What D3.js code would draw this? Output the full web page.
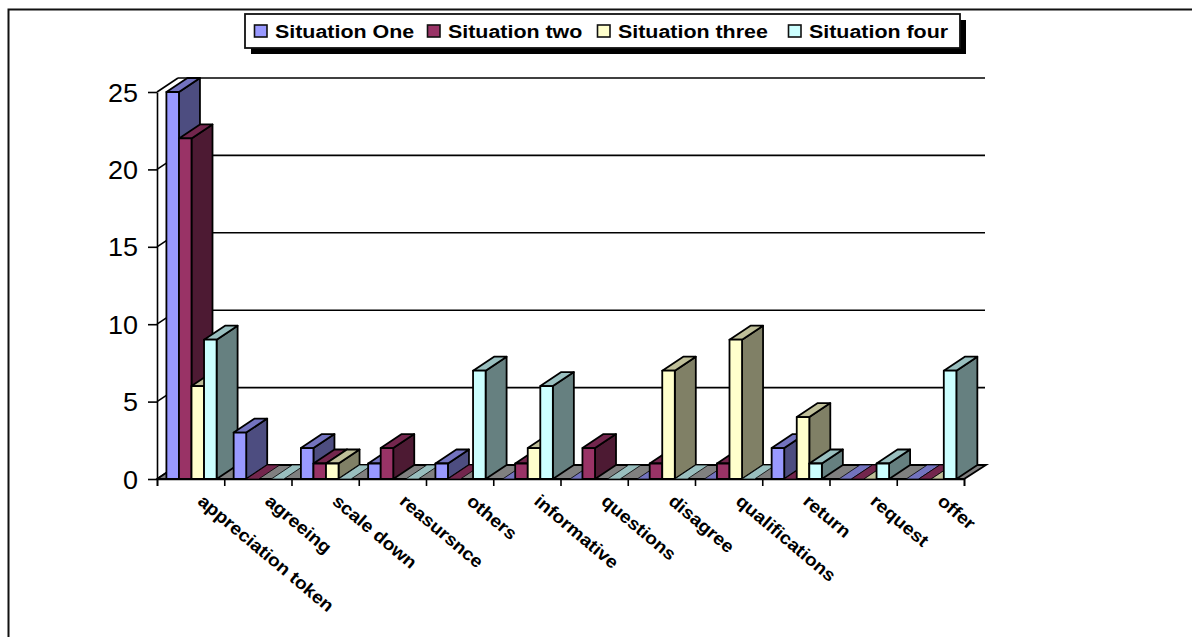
<!DOCTYPE html>
<html>
<head>
<meta charset="utf-8">
<script src="https://cdnjs.cloudflare.com/ajax/libs/d3/7.8.5/d3.min.js"></script>
<style>
  html, body { margin: 0; padding: 0; background: #fff; }
  svg { display: block; }
  text { font-family: "Liberation Sans", Arial, sans-serif; fill: #000; }
</style>
</head>
<body>
<svg id="chart" width="1192" height="637"></svg>
<script>
// Chart values; a null means the cell is empty, so no bar or strip is drawn.
const categories = ["appreciation token", "agreeing", "scale down", "reasursnce", "others",
  "informative", "questions", "disagree", "qualifications", "return", "request", "offer"];
const seriesNames = ["Situation One", "Situation two", "Situation three", "Situation four"];
const situationOne   = [25, 3, 2, 1, 1, 0, 0, 0, 0, 2, 0, 0];
const situationTwo   = [22, 0, 1, 2, 0, 1, 2, 1, 1, 0, 0, 0];
const situationThree = [6, null, 1, null, null, 2, null, 7, 9, 4, 0, 0];
const situationFour  = [9, 0, 0, 0, 7, 6, 0, 0, 0, 1, 1, 7];
const seriesValues = [situationOne, situationTwo, situationThree, situationFour];
const yTicks = [0, 5, 10, 15, 20, 25];

// Front, top and side shades for each series.
const frontColors = ["#9999ff", "#993366", "#ffffcc", "#ccffff"];
const topColors   = ["#7373bf", "#73264d", "#bfbf99", "#99bfbf"];
const sideColors  = ["#4d4d80", "#4d1a33", "#808066", "#668080"];

const svg = d3.select("#chart");

// Plot frame and the oblique depth of the 3-D box.
const plot = { left: 157, right: 964, top: 92, bottom: 479 };
const depth = { dx: 21, dy: -14 };
const lineColor = "#000";
const edge = 1.8;

const y = d3.scaleLinear().domain([0, 25]).range([plot.bottom, plot.top]);
const xBand = d3.scaleBand().domain(categories).range([plot.left, plot.right]);
const xInner = d3.scaleBand().domain(d3.range(seriesNames.length)).range([9.4, 59.6]);
const xTicks = d3.scaleLinear().domain([0, categories.length]).range([plot.left, plot.right]);

const poly = pts => pts.map(p => p.join(",")).join(" ");

// Outer border running off the top right and bottom left of the page.
svg.append("path")
  .attr("d", "M8.5,637V9.5H1192")
  .attr("fill", "none").attr("stroke", "#111").attr("stroke-width", 2);

// Back-wall gridlines with their diagonal returns on the side wall.
const walls = svg.append("g").attr("stroke", lineColor).attr("stroke-width", 1.6).attr("fill", "none");
walls.selectAll("line.grid").data(yTicks.filter(t => t > 0)).join("line")
  .attr("class", "grid")
  .attr("x1", plot.left + depth.dx).attr("x2", plot.right + depth.dx)
  .attr("y1", d => y(d) + depth.dy).attr("y2", d => y(d) + depth.dy);
walls.selectAll("line.return").data(yTicks).join("line")
  .attr("class", "return")
  .attr("x1", plot.left).attr("x2", plot.left + depth.dx)
  .attr("y1", d => y(d)).attr("y2", d => y(d) + depth.dy);

// Floor of the box.
svg.append("polygon")
  .attr("points", poly([
    [plot.left, plot.bottom], [plot.right, plot.bottom],
    [plot.right + depth.dx + 1, plot.bottom + depth.dy], [plot.left + depth.dx, plot.bottom + depth.dy]
  ]))
  .attr("fill", "#808080").attr("stroke", lineColor).attr("stroke-width", edge);

// Value axis.
const yAxis = svg.append("g")
  .attr("transform", `translate(${plot.left},0)`)
  .call(d3.axisLeft(y).tickValues(yTicks).tickSize(9).tickPadding(10).tickSizeOuter(0));
yAxis.selectAll("path, line").attr("stroke", lineColor).attr("stroke-width", 1.6);
yAxis.selectAll("text")
  .attr("font-size", 25)
  .style("font-family", '"Liberation Sans", Arial, sans-serif')
  .attr("dy", "0.36em")
  .attr("textLength", d => String(d).length * 15)
  .attr("lengthAdjust", "spacingAndGlyphs");

// Category axis tick marks sit on the band boundaries.
const xAxis = svg.append("g")
  .attr("transform", `translate(0,${plot.bottom})`)
  .call(d3.axisBottom(xTicks).tickValues(d3.range(categories.length + 1)).tickSize(7).tickFormat(""));
xAxis.selectAll("path, line").attr("stroke", lineColor).attr("stroke-width", 1.6);

// Bars are painted left to right so that nearer faces overlap earlier ones.
const barsLayer = svg.append("g").attr("stroke", lineColor).attr("stroke-width", edge).attr("stroke-linejoin", "round");
categories.forEach((cat, ci) => {
  seriesValues.forEach((vals, si) => {
    const v = vals[ci];
    if (v === null) return;
    const x0 = xBand(cat) + xInner(si);
    const x1 = x0 + xInner.bandwidth();
    const yb = y(0);
    const yt = y(v);
    const { dx, dy } = depth;
    const g = barsLayer.append("g");
    if (v > 0) {
      g.append("polygon").attr("fill", sideColors[si])
        .attr("points", poly([[x1, yb], [x1 + dx, yb + dy], [x1 + dx, yt + dy], [x1, yt]]));
    }
    g.append("polygon").attr("fill", topColors[si])
      .attr("stroke-width", v > 0 ? edge : 0.8)
      .attr("points", poly([[x0, yt], [x1, yt], [x1 + dx, yt + dy], [x0 + dx, yt + dy]]));
    if (v > 0) {
      g.append("rect").attr("fill", frontColors[si])
        .attr("x", x0).attr("y", yt).attr("width", x1 - x0).attr("height", yb - yt);
    }
  });
});

// Slanted category labels.
const labelStretch = 1.08;
svg.append("g").selectAll("text").data(categories).join("text")
  .attr("transform", d => `translate(${xBand(d) + xBand.bandwidth() / 2 + 6},503) rotate(40) scale(${labelStretch},1)`)
  .attr("font-size", 17.8).attr("font-weight", "bold")
  .text(d => d);

// Legend box with its drop shadow.
const legend = { x: 245, y: 14, w: 715, h: 34, shadow: 6 };
const legendMarkers = [254, 427, 597, 788];
const legendStretch = 1.19;
svg.append("rect").attr("x", legend.x + legend.shadow).attr("y", legend.y + legend.shadow)
  .attr("width", legend.w).attr("height", legend.h).attr("fill", "#000");
svg.append("rect").attr("x", legend.x).attr("y", legend.y)
  .attr("width", legend.w).attr("height", legend.h)
  .attr("fill", "#fff").attr("stroke", "#111").attr("stroke-width", 1.8);
const entries = svg.append("g").selectAll("g").data(seriesNames).join("g")
  .attr("transform", (d, i) => `translate(${legendMarkers[i]},0)`);
entries.append("rect")
  .attr("x", 0.5).attr("y", 25).attr("width", 12.5).attr("height", 12)
  .attr("fill", (d, i) => frontColors[i]).attr("stroke", "#111").attr("stroke-width", 1.6);
entries.append("text")
  .attr("transform", `translate(21,37.5) scale(${legendStretch},1)`)
  .attr("font-size", 18).attr("font-weight", "bold")
  .text(d => d);
</script>
</body>
</html>
